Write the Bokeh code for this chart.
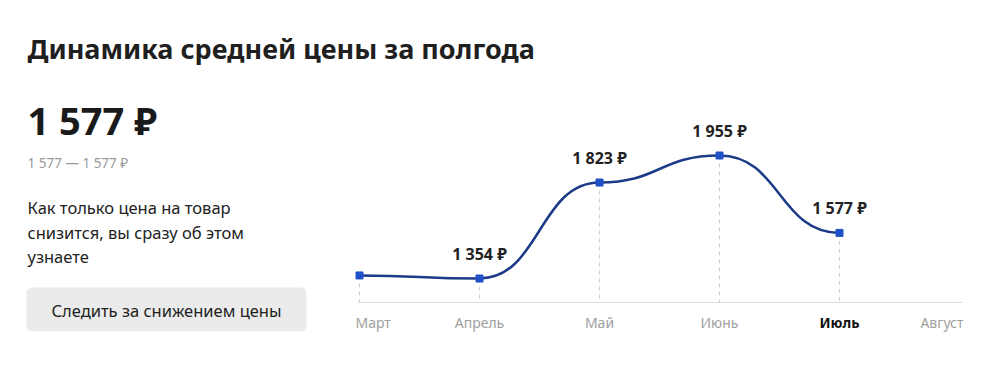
from bokeh.plotting import figure
from bokeh.models import Range1d, Label, BoxAnnotation, ColumnDataSource
from bokeh.core.properties import value
from bokeh.embed import file_html
from bokeh.resources import INLINE

# ---- data ----
months = ["Март", "Апрель", "Май", "Июнь", "Июль", "Август"]
month_idx = [0, 1, 2, 3, 4, 5]
current_month = "Июль"
price_idx = [0, 1, 2, 3, 4]
prices = [1369, 1354, 1823, 1955, 1577]
price_labels = ["", "1 354 ₽", "1 823 ₽", "1 955 ₽", "1 577 ₽"]

title_text = "Динамика средней цены за полгода"
current_price = "1 577 ₽"
price_range = "1 577 — 1 577 ₽"
note_lines = ["Как только цена на товар", "снизится, вы сразу об этом", "узнаете"]
button_text = "Следить за снижением цены"

FONT = "Noto Sans"
W, H = 1000, 377
X_PX0, X_STEP = 359, 120          # pixel of first month, pixels per month
Y_BASE = 1237                      # value at the baseline
Y_START, Y_END = 870.5, 2712.2

p = figure(width=W, height=H, output_backend="svg", toolbar_location=None,
           x_axis_type=None, y_axis_type=None,
           x_range=Range1d(-X_PX0 / X_STEP, (W - X_PX0) / X_STEP),
           y_range=Range1d(Y_START, Y_END),
           min_border=0)
p.outline_line_color = None
p.background_fill_color = "white"
p.border_fill_color = "white"

# baseline
p.segment(x0=[month_idx[0] - 2 / X_STEP], y0=[Y_BASE], x1=[month_idx[-1] + 3 / X_STEP], y1=[Y_BASE],
          line_color="#dcdcdc", line_width=1)

# dashed drop lines
p.segment(x0=price_idx, y0=prices, x1=price_idx, y1=[Y_BASE] * len(prices),
          line_color="#cfcfcf", line_width=1, line_dash="4 4")

# smooth curve (horizontal tangents at points)
x0 = price_idx[:-1]; x1 = price_idx[1:]
y0 = prices[:-1]; y1 = prices[1:]
cx = [(a + b) / 2 for a, b in zip(x0, x1)]
p.bezier(x0=x0, y0=y0, x1=x1, y1=y1, cx0=cx, cy0=y0, cx1=cx, cy1=y1,
         line_color="#1b3a88", line_width=2.5)

p.scatter(x=price_idx, y=prices, marker="square", size=7, fill_color="#1f50c6", line_color="#1f50c6")

lab_src = ColumnDataSource(dict(
    x=[i for i, t in zip(price_idx, price_labels) if t],
    y=[v for v, t in zip(prices, price_labels) if t],
    t=[t for t in price_labels if t]))
p.text(x="x", y="y", text="t", source=lab_src, text_align="center", text_baseline="middle",
       y_offset=-25, text_font=value(FONT), text_font_size="16px", text_font_style="bold",
       text_color="#222222")

# month labels
for i, m in zip(month_idx, months):
    if i == month_idx[0]:
        align, off = "left", -4
    elif i == month_idx[-1]:
        align, off = "right", 4
    else:
        align, off = "center", 0
    cur = (m == current_month)
    p.add_layout(Label(x=i, y=H - 322, x_units="data", y_units="screen", x_offset=off, text=m,
                       text_align=align, text_baseline="middle", text_font=FONT,
                       text_font_size="14px", text_font_style="bold" if cur else "normal",
                       text_color="#111111" if cur else "#a0a0a0"))

def slabel(text, x, y_top, size, color, style="normal", align="left"):
    p.add_layout(Label(x=x, y=H - y_top, x_units="screen", y_units="screen", text=text,
                       text_align=align, text_baseline="middle", text_font=FONT,
                       text_font_size=size, text_font_style=style, text_color=color))

slabel(title_text, 27, 48, "27px", "#1f1f1f", "bold")
slabel(current_price, 27, 119, "38px", "#1a1a1a", "bold")
slabel(price_range, 27, 162, "13.5px", "#9a9a9a")
for k, line in enumerate(note_lines):
    slabel(line, 27, 207 + k * 24.5, "16.5px", "#222222")

p.add_layout(BoxAnnotation(left=26, right=306, top=H - 287, bottom=H - 331,
                           left_units="screen", right_units="screen",
                           top_units="screen", bottom_units="screen",
                           fill_color="#ebebeb", fill_alpha=1, line_color=None,
                           border_radius=6, level="underlay"))
slabel(button_text, 166, 310, "16.5px", "#222222", align="center")

open("out.html", "w").write(file_html(p, INLINE))
